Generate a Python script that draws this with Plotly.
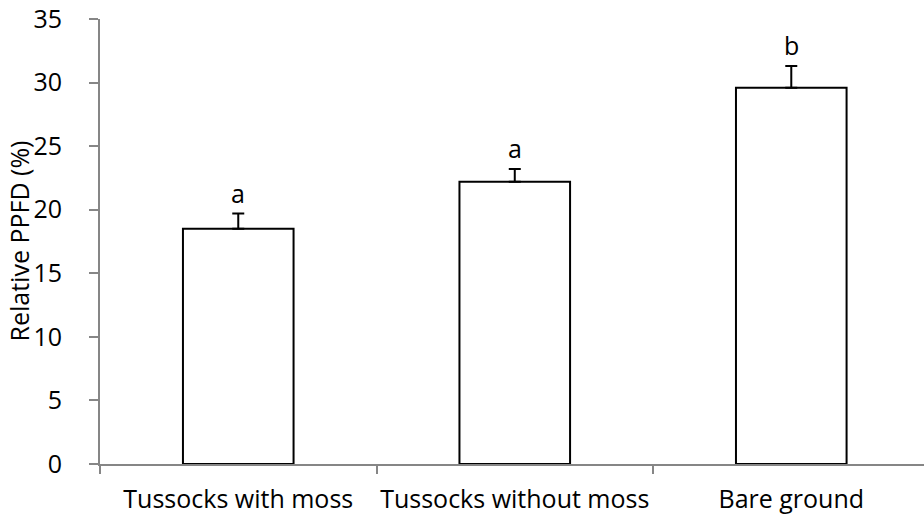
import plotly.graph_objects as go

categories = ["Tussocks with moss", "Tussocks without moss", "Bare ground"]
values = [18.5, 22.2, 29.6]
errors = [1.2, 1.0, 1.7]
letters = ["a", "a", "b"]
yticks = [0, 5, 10, 15, 20, 25, 30, 35]
y_title = "Relative PPFD (%)"

FONT = "Open Sans"
FS = 25
AXIS_COLOR = "#868686"

fig = go.Figure()
fig.add_trace(go.Bar(
    x=categories,
    y=values,
    marker=dict(color="white", line=dict(color="black", width=2)),
    error_y=dict(type="data", array=errors, arrayminus=[0] * len(errors),
                 symmetric=False, color="black", thickness=2, width=6),
    width=0.4,
    showlegend=False,
))

for c, v, e, l in zip(categories, values, errors, letters):
    fig.add_annotation(x=c, y=v + e, text=l, showarrow=False,
                       yanchor="bottom", yshift=2,
                       font=dict(family=FONT, size=FS, color="black"))

# y-axis title, placed as a rotated annotation
fig.add_annotation(xref="paper", yref="paper", x=0, y=0.5, xshift=-82,
                   text=y_title, textangle=-90, showarrow=False,
                   xanchor="center", yanchor="middle",
                   font=dict(family=FONT, size=FS, color="black"))

fig.update_layout(
    width=924, height=522,
    margin=dict(l=100, r=0, t=19, b=58, autoexpand=False),
    plot_bgcolor="white", paper_bgcolor="white",
    font=dict(family=FONT, size=FS, color="black"),
)
fig.update_xaxes(
    range=[-0.5, 2.48],
    showline=True, linecolor=AXIS_COLOR, linewidth=2,
    ticks="outside", tickson="boundaries", ticklen=8, tickcolor=AXIS_COLOR, tickwidth=2,
    showgrid=False, zeroline=False, tickangle=0, automargin=False,
    ticklabelstandoff=12,
    tickfont=dict(family=FONT, size=FS, color="black"),
)
fig.update_yaxes(
    range=[0, 35], tickvals=yticks,
    showline=True, linecolor=AXIS_COLOR, linewidth=2,
    ticks="outside", ticklen=9, tickcolor=AXIS_COLOR, tickwidth=2,
    showgrid=False, zeroline=False, automargin=False,
    ticklabelstandoff=22,
    tickfont=dict(family=FONT, size=FS, color="black"),
)

fig.write_html("out.html")
